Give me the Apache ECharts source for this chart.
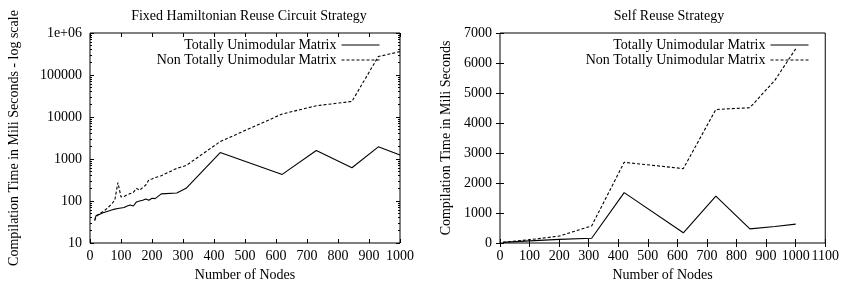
<!DOCTYPE html>
<html>
<head>
<meta charset="utf-8">
<script src="https://cdn.jsdelivr.net/npm/echarts@6/dist/echarts.min.js"></script>
<style>
  html, body { margin: 0; padding: 0; background: #fff; }
  #chart { width: 842px; height: 289px; }
</style>
</head>
<body>
<div id="chart"></div>
<script>
// Fixed Hamiltonian Reuse Circuit Strategy (log scale)
const fixedNodes = [15, 20, 30, 40, 50, 60, 70, 80, 90, 100, 110, 120, 130, 140, 150, 160, 170, 180, 190, 200, 210, 230, 280, 310, 420, 620, 730, 845, 930, 1000];
const fixedTU = [36, 45, 48, 52, 55, 58, 61, 64, 66, 68, 70, 76, 80, 76, 95, 100, 104, 112, 104, 116, 114, 148, 155, 200, 1420, 430, 1600, 620, 1950, 1250];
const fixedNonTU = [34, 42, 50, 55, 62, 72, 85, 105, 275, 125, 128, 140, 150, 160, 200, 180, 210, 240, 320, 335, 360, 400, 600, 700, 2600, 11800, 18500, 23500, 275000, 360000];

// Self Reuse Strategy (linear)
const selfNodes = [10, 100, 200, 310, 420, 620, 730, 845, 930, 1000];
const selfTU = [20, 70, 120, 160, 1680, 340, 1560, 470, 550, 630];
const selfNonTU = [25, 110, 230, 570, 2690, 2480, 4450, 4510, 5430, 6470];

const logMajor = [10, 100, 1000, 10000, 100000, 1000000];
const TU_NAME = 'Totally Unimodular Matrix';
const NTU_NAME = 'Non Totally Unimodular Matrix';

// minor tick positions 2..9 of each decade (gnuplot style)
const logMinor = [];
for (let d = 10; d < 1e6; d *= 10) {
  for (let k = 2; k <= 9; k++) logMinor.push(d * k);
}

const FONT = 'Liberation Serif';
const pair = (xs, ys) => xs.map((x, i) => [x, ys[i]]);
const plain = (v) => String(Math.round(v));

const tickAxisX = (grid, pos, max, interval, labels) => ({
  gridIndex: grid, type: 'value', position: pos, min: 0, max, interval,
  axisLine: { show: false },
  axisTick: { show: true, inside: true, length: 4, lineStyle: { color: '#000' } },
  axisLabel: { show: labels, color: '#000', fontFamily: FONT, fontSize: 14, margin: 6, formatter: plain },
  splitLine: { show: false },
});

const legendBox = (right) => ({
  orient: 'vertical', right, top: 38, padding: 0, align: 'right',
  itemWidth: 38, itemHeight: 14, itemGap: 1,
  data: [TU_NAME, NTU_NAME],
  itemStyle: { opacity: 0 },
  lineStyle: { width: 1 },
  textStyle: { fontFamily: FONT, fontSize: 14, color: '#000' },
});

const chart = echarts.init(document.getElementById('chart'), null, { renderer: 'canvas' });

const lineSeries = (name, data, xi, yi, dashed) => ({
  name, type: 'line', xAxisIndex: xi, yAxisIndex: yi, data,
  symbol: 'none', animation: false,
  lineStyle: { color: '#000', width: 1.1, type: dashed ? [3, 2] : 'solid' },
  itemStyle: { color: '#000' },
});

const nameStyle = { fontFamily: FONT, fontSize: 14, color: '#000' };

chart.setOption({
  backgroundColor: '#fff',
  animation: false,
  textStyle: { fontFamily: FONT, color: '#000' },
  title: [
    { text: 'Fixed Hamiltonian Reuse Circuit Strategy', left: 244, top: 4, textAlign: 'center',
      textStyle: { fontFamily: FONT, fontSize: 14, fontWeight: 'normal', color: '#000' } },
    { text: 'Self Reuse Strategy', left: 664, top: 4, textAlign: 'center',
      textStyle: { fontFamily: FONT, fontSize: 14, fontWeight: 'normal', color: '#000' } },
  ],
  legend: [legendBox(462), legendBox(33)],
  grid: [
    { left: 90, right: 442, top: 33, bottom: 46, show: true, borderColor: '#000', borderWidth: 1 },
    { left: 500, right: 16, top: 33, bottom: 46, show: true, borderColor: '#000', borderWidth: 1 },
  ],
  xAxis: [
    Object.assign(tickAxisX(0, 'bottom', 1000, 100, true), {
      name: 'Number of Nodes', nameLocation: 'middle', nameGap: 20, nameTextStyle: nameStyle }),
    tickAxisX(0, 'top', 1000, 100, false),
    Object.assign(tickAxisX(1, 'bottom', 1100, 100, true), {
      name: 'Number of Nodes', nameLocation: 'middle', nameGap: 20, nameTextStyle: nameStyle }),
    tickAxisX(1, 'top', 1100, 100, false),
  ],
  yAxis: [
    {
      gridIndex: 0, type: 'log', logBase: 10, min: 10, max: 1000000, position: 'left',
      name: 'Compilation Time in Mili Seconds - log scale', nameLocation: 'middle', nameGap: 69,
      nameTextStyle: nameStyle,
      axisLine: { show: false },
      axisTick: { show: true, inside: true, length: 4, customValues: logMajor, lineStyle: { color: '#000' } },
      axisLabel: { color: '#000', fontFamily: FONT, fontSize: 14, margin: 8, customValues: logMajor,
        formatter: (v) => { const r = Math.round(v); return r === 1000000 ? '1e+06' : String(r); } },
      splitLine: { show: false },
    },
    {
      gridIndex: 0, type: 'log', logBase: 10, min: 10, max: 1000000, position: 'left',
      axisLine: { show: false },
      axisTick: { show: true, inside: true, length: 2, customValues: logMinor, lineStyle: { color: '#000' } },
      axisLabel: { show: false }, splitLine: { show: false },
    },
    {
      gridIndex: 0, type: 'log', logBase: 10, min: 10, max: 1000000, position: 'right',
      axisLine: { show: false },
      axisTick: { show: true, inside: true, length: 4, customValues: logMajor, lineStyle: { color: '#000' } },
      axisLabel: { show: false }, splitLine: { show: false },
    },
    {
      gridIndex: 0, type: 'log', logBase: 10, min: 10, max: 1000000, position: 'right',
      axisLine: { show: false },
      axisTick: { show: true, inside: true, length: 2, customValues: logMinor, lineStyle: { color: '#000' } },
      axisLabel: { show: false }, splitLine: { show: false },
    },
    {
      gridIndex: 1, type: 'value', min: 0, max: 7000, interval: 1000, position: 'left',
      name: 'Compilation Time in Mili Seconds', nameLocation: 'middle', nameGap: 47,
      nameTextStyle: nameStyle,
      axisLine: { show: false },
      axisTick: { show: true, inside: true, length: 4, lineStyle: { color: '#000' } },
      axisLabel: { color: '#000', fontFamily: FONT, fontSize: 14, margin: 8, formatter: plain },
      splitLine: { show: false },
    },
    {
      gridIndex: 1, type: 'value', min: 0, max: 7000, interval: 1000, position: 'right',
      axisLine: { show: false },
      axisTick: { show: true, inside: true, length: 4, lineStyle: { color: '#000' } },
      axisLabel: { show: false }, splitLine: { show: false },
    },
  ],
  series: [
    lineSeries(TU_NAME, pair(fixedNodes, fixedTU), 0, 0, false),
    lineSeries(NTU_NAME, pair(fixedNodes, fixedNonTU), 0, 0, true),
    lineSeries(TU_NAME, pair(selfNodes, selfTU), 2, 4, false),
    lineSeries(NTU_NAME, pair(selfNodes, selfNonTU), 2, 4, true),
  ],
});
</script>
</body>
</html>
